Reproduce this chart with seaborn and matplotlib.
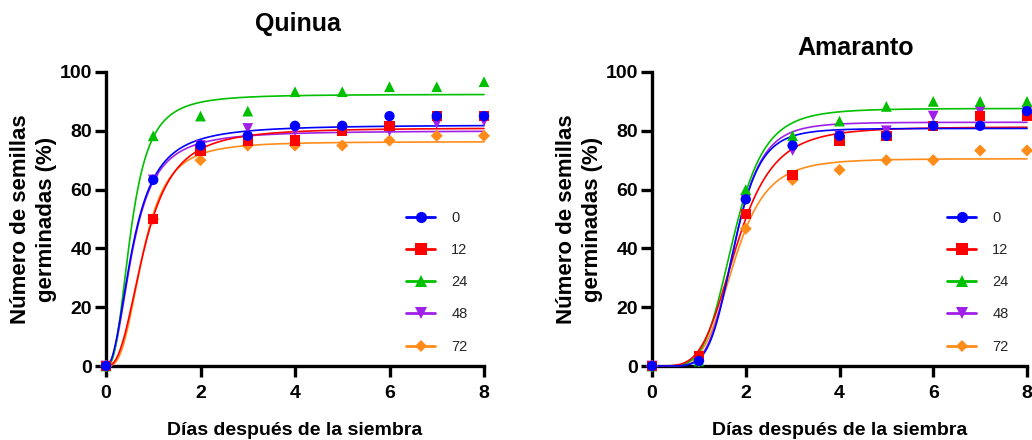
import numpy as np
import pandas as pd
import matplotlib
matplotlib.use("Agg")
import matplotlib.pyplot as plt
import seaborn as sns
from matplotlib.lines import Line2D

# ---------------- data ----------------
days = [0, 1, 2, 3, 4, 5, 6, 7, 8]
series_labels = ["0", "12", "24", "48", "72"]

quinua_0 = [0, 63.3, 75.0, 78.3, 81.7, 81.7, 85.0, 85.0, 85.0]
quinua_12 = [0, 50.0, 73.3, 76.7, 76.7, 80.0, 81.7, 85.0, 85.0]
quinua_24 = [0, 78.3, 85.0, 86.7, 93.3, 93.3, 95.0, 95.0, 96.7]
quinua_48 = [0, 63.3, 75.0, 80.8, 80.0, 80.0, 80.0, 82.5, 83.3]
quinua_72 = [0, 50.0, 70.0, 75.0, 75.0, 75.0, 76.7, 78.3, 78.3]

amaranto_0 = [0, 1.7, 56.7, 75.0, 78.3, 78.3, 81.7, 81.7, 86.7]
amaranto_12 = [0, 3.3, 51.7, 65.0, 76.7, 78.3, 81.7, 85.0, 85.0]
amaranto_24 = [0, 1.7, 60.0, 78.3, 83.3, 88.3, 90.0, 90.0, 90.0]
amaranto_48 = [0, 1.7, 56.7, 73.3, 78.3, 80.0, 85.0, 86.7, 86.7]
amaranto_72 = [0, 1.7, 46.7, 63.3, 66.7, 70.0, 70.0, 73.3, 73.3]

# fitted log-logistic curve parameters (top, x50, hill)
quinua_top = [82.0, 81.0, 92.4, 80.0, 76.3]
quinua_x50 = [0.57, 0.82, 0.53, 0.57, 0.78]
quinua_hill = [2.2, 2.6, 2.64, 2.3, 3.0]

amaranto_top = [80.8, 81.3, 87.6, 82.9, 70.5]
amaranto_x50 = [1.75, 1.80, 1.74, 1.76, 1.75]
amaranto_hill = [6.3, 4.5, 5.2, 6.0, 5.0]

colors = ["#0000FF", "#FF0000", "#00C000", "#A020E8", "#FF8C1A"]
markers = ["o", "s", "^", "v", "D"]
msizes = [55, 55, 60, 60, 38]

# ---------------- style ----------------
sns.set_theme(style="ticks")
plt.rcParams["font.family"] = ["Liberation Sans", "DejaVu Sans"]

W, H = 1032, 440
fig = plt.figure(figsize=(W / 100, H / 100), dpi=100)

def px_axes(x0, x1, ytop, ybot):
    return fig.add_axes([x0 / W, (H - ybot) / H, (x1 - x0) / W, (ybot - ytop) / H])

ax1 = px_axes(106, 484, 72, 366)
ax2 = px_axes(652, 1027, 72, 366)

def loglogistic(x, top, x50, h):
    x = np.asarray(x, dtype=float)
    out = np.zeros_like(x)
    pos = x > 0
    out[pos] = top / (1.0 + (x50 / x[pos]) ** h)
    return out

def draw_panel(ax, data, tops, x50s, hills, title, title_pad, title_x, ylab_x, leg_x):
    xfit = np.linspace(0, 8, 400)
    for i in range(len(data)):
        yfit = loglogistic(xfit, tops[i], x50s[i], hills[i])
        sns.lineplot(x=xfit, y=yfit, color=colors[i], linewidth=1.2, ax=ax,
                     zorder=3 + (5 - i) * 0.1, clip_on=False)
    for i in reversed(range(len(data))):
        df = pd.DataFrame({"day": days, "val": data[i]})
        sns.scatterplot(data=df, x="day", y="val", marker=markers[i], color=colors[i],
                        s=msizes[i], edgecolor="none", linewidth=0, ax=ax,
                        zorder=5 + (5 - i), clip_on=False)
    ax.set_xlim(0, 8)
    ax.set_ylim(0, 100)
    ax.set_xticks([0, 2, 4, 6, 8])
    ax.set_yticks([0, 20, 40, 60, 80, 100])
    for s in ["top", "right"]:
        ax.spines[s].set_visible(False)
    for s in ["left", "bottom"]:
        ax.spines[s].set_linewidth(2.4)
        ax.spines[s].set_color("black")
    ax.tick_params(axis="both", which="major", length=8, width=2.4, color="black",
                   labelsize=14, labelcolor="black")
    ax.tick_params(axis="x", pad=6)
    ax.tick_params(axis="y", pad=2)
    for lab in ax.get_xticklabels() + ax.get_yticklabels():
        lab.set_fontweight("bold")
    ax.set_xlabel("Días después de la siembra", fontsize=14, fontweight="bold", color="black")
    ax.set_ylabel("Número de semillas\ngerminadas (%)", fontsize=16, fontweight="bold",
                  color="black", linespacing=1.3)
    ax.xaxis.set_label_coords(0.5, -0.19)
    ax.yaxis.set_label_coords(ylab_x, 0.5)
    ax.set_title(title, fontsize=18, fontweight="bold", pad=title_pad, x=title_x, color="black")
    ax.grid(False)
    ax.set_facecolor("white")
    handles = [Line2D([0], [0], color=colors[i], marker=markers[i], linewidth=2,
                      markersize=8 if markers[i] != "D" else 6, markeredgewidth=0)
               for i in range(len(data))]
    ax.legend(handles, series_labels, loc="upper left", frameon=False,
              bbox_to_anchor=(leg_x, 0.548), borderaxespad=0,
              fontsize=10.5, handlelength=2.0, handletextpad=1.1, labelspacing=1.25)

draw_panel(ax1, [quinua_0, quinua_12, quinua_24, quinua_48, quinua_72],
           quinua_top, quinua_x50, quinua_hill, "Quinua", 29.5, 0.507, -0.13, 0.778)
draw_panel(ax2, [amaranto_0, amaranto_12, amaranto_24, amaranto_48, amaranto_72],
           amaranto_top, amaranto_x50, amaranto_hill, "Amaranto", 12, 0.544, -0.131, 0.771)

fig.patch.set_facecolor("white")
fig.savefig("out.png", dpi=100, facecolor="white")
